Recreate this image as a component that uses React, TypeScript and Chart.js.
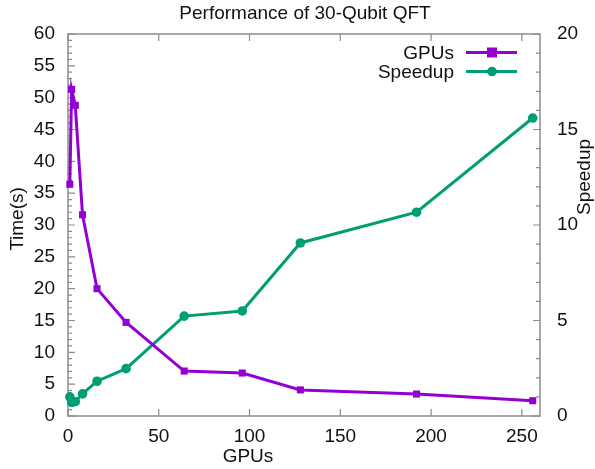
import React, { useEffect, useRef } from "react";
import { Chart, registerables } from "chart.js";

Chart.register(...registerables);

const chartTitle = "Performance of 30-Qubit QFT";
const xAxisTitle = "GPUs";
const yAxisTitle = "Time(s)";
const y2AxisTitle = "Speedup";
const gpuCounts = [1, 2, 4, 8, 16, 32, 64, 96, 128, 192, 256];
const timeSeconds = [36.4, 51.3, 48.8, 31.6, 20.0, 14.7, 7.06, 6.75, 4.1, 3.45, 2.4];
const speedupValues = [1.0, 0.71, 0.75, 1.16, 1.82, 2.48, 5.23, 5.5, 9.06, 10.67, 15.6];
const seriesNames = ["GPUs", "Speedup"];

const PURPLE = "#9400d3";
const GREEN = "#009e73";
const BORDER = "#8c8c8c";
const TEXT = "#111111";
const FONT = "'Liberation Sans', Arial, sans-serif";
const FS = 19;

const decorPlugin = {
  id: "gnuplotDecor",
  beforeDatasetsDraw(chart: any) {
    const { ctx, chartArea } = chart;
    const { left, right, top, bottom } = chartArea;
    const xs = chart.scales.x;
    const ys = chart.scales.y;
    const y2 = chart.scales.y1;
    ctx.save();
    ctx.strokeStyle = BORDER;
    ctx.lineWidth = 1.5;
    ctx.strokeRect(left, top, right - left, bottom - top);
    ctx.lineWidth = 1.2;
    ctx.beginPath();
    for (let v = 0; v <= xs.max; v += 50) {
      const px = xs.getPixelForValue(v);
      ctx.moveTo(px, bottom);
      ctx.lineTo(px, bottom - 7);
      ctx.moveTo(px, top);
      ctx.lineTo(px, top + 7);
    }
    for (let v = 0; v <= ys.max; v += 1) {
      const py = ys.getPixelForValue(v);
      const len = v % 5 === 0 ? 7 : 4;
      ctx.moveTo(left, py);
      ctx.lineTo(left + len, py);
    }
    for (let v = 0; v <= y2.max; v += 1) {
      const py = y2.getPixelForValue(v);
      const len = v % 5 === 0 ? 7 : 4;
      ctx.moveTo(right, py);
      ctx.lineTo(right - len, py);
    }
    ctx.stroke();
    ctx.restore();
  },
  afterDraw(chart: any) {
    const { ctx } = chart;
    ctx.save();
    ctx.fillStyle = TEXT;
    ctx.font = `${FS}px ${FONT}`;
    ctx.textBaseline = "middle";
    ctx.textAlign = "center";
    ctx.fillText(chartTitle, 305, 14);
    ctx.fillText(xAxisTitle, 248, 457);
    ctx.save();
    ctx.translate(17.5, 219);
    ctx.rotate(-Math.PI / 2);
    ctx.fillText(yAxisTitle, 0, 0);
    ctx.restore();
    ctx.save();
    ctx.translate(585, 177);
    ctx.rotate(-Math.PI / 2);
    ctx.fillText(y2AxisTitle, 0, 0);
    ctx.restore();

    // legend
    const rows = [52.5, 71.5];
    chart.data.datasets.forEach((ds: any, i: number) => {
      const y = rows[i];
      ctx.textAlign = "right";
      ctx.fillStyle = TEXT;
      ctx.fillText(ds.label, 454, y + 1);
      ctx.strokeStyle = ds.borderColor;
      ctx.lineWidth = 3;
      ctx.beginPath();
      ctx.moveTo(466, y);
      ctx.lineTo(517, y);
      ctx.stroke();
      ctx.fillStyle = ds.borderColor;
      if (ds.pointStyle === "rect") {
        ctx.fillRect(492 - 5, y - 5, 10, 10);
      } else {
        ctx.beginPath();
        ctx.arc(492, y, 4.8, 0, Math.PI * 2);
        ctx.fill();
      }
    });
    ctx.restore();
  },
};

export default function App() {
  const ref = useRef<HTMLCanvasElement>(null);
  useEffect(() => {
    document.body.style.margin = "0";
    const c = ref.current;
    if (!c) return;
    const chart = new Chart(c, {
      type: "line",
      data: {
        datasets: [
          {
            label: seriesNames[0],
            data: gpuCounts.map((g, i) => ({ x: g, y: timeSeconds[i] })),
            borderColor: PURPLE,
            backgroundColor: PURPLE,
            borderWidth: 3,
            pointStyle: "rect",
            pointRadius: 5,
            pointBorderWidth: 0,
            yAxisID: "y",
            clip: false as any,
          },
          {
            label: seriesNames[1],
            data: gpuCounts.map((g, i) => ({ x: g, y: speedupValues[i] })),
            borderColor: GREEN,
            backgroundColor: GREEN,
            borderWidth: 3,
            pointStyle: "circle",
            pointRadius: 4.8,
            pointBorderWidth: 0,
            yAxisID: "y1",
            clip: false as any,
          },
        ],
      },
      options: {
        responsive: false,
        animation: false,
        layout: { padding: { top: 34, left: 0, right: 0, bottom: 0 } },
        plugins: {
          legend: { display: false },
          tooltip: { enabled: false },
          title: { display: false },
        },
        scales: {
          x: {
            type: "linear",
            min: 0,
            max: 260,
            grid: { display: false, drawTicks: false },
            border: { display: false },
            afterBuildTicks: (s: any) => {
              s.ticks = [0, 50, 100, 150, 200, 250].map((v) => ({ value: v }));
            },
            ticks: {
              color: TEXT,
              autoSkip: false,
              font: { family: FONT, size: FS },
              padding: 9,
              maxRotation: 0,
            },
            afterFit: (s: any) => {
              s.height = 53;
            },
          },
          y: {
            position: "left",
            min: 0,
            max: 60,
            grid: { display: false, drawTicks: false },
            border: { display: false },
            ticks: {
              stepSize: 5,
              color: TEXT,
              font: { family: FONT, size: FS },
              padding: 13,
            },
            afterFit: (s: any) => {
              s.width = 68;
            },
          },
          y1: {
            position: "right",
            min: 0,
            max: 20,
            grid: { display: false, drawTicks: false },
            border: { display: false },
            ticks: {
              stepSize: 5,
              color: TEXT,
              font: { family: FONT, size: FS },
              padding: 17,
            },
            afterFit: (s: any) => {
              s.width = 55;
            },
          },
        },
      },
      plugins: [decorPlugin],
    });
    return () => chart.destroy();
  }, []);
  return (
    <div style={{ width: 595, height: 469, background: "#fff" }}>
      <canvas ref={ref} width={595} height={469} style={{ display: "block" }} />
    </div>
  );
}
